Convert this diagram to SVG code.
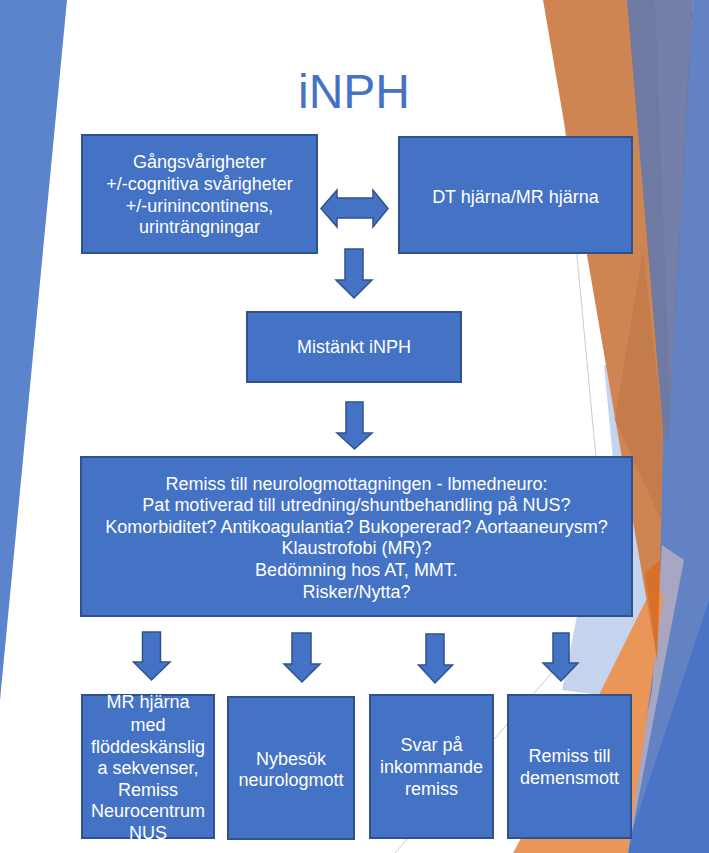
<svg xmlns="http://www.w3.org/2000/svg" width="709" height="853" viewBox="0 0 709 853">
<style>
.node rect{fill:#4472C4;stroke:#2F528F;stroke-width:2}
.node text{font-family:"Liberation Sans",Arial,sans-serif;font-size:18px;fill:#FFFFFF;text-anchor:middle}
.arrow{fill:#4472C4;stroke:#2F528F;stroke-width:1.5;stroke-linejoin:miter}
.title{font-family:"Liberation Sans",Arial,sans-serif;font-size:48px;fill:#4472C4;text-anchor:middle}
.thin{stroke:#BDBDBD;stroke-width:0.8;fill:none}
</style>
<rect width="709" height="853" fill="#FFFFFF"/>
<g id="background">
  <polygon points="0,0 67,0 0,700" fill="#5B84CC"/>
  <line class="thin" x1="553" y1="0" x2="630" y2="820"/>
  <line class="thin" x1="395" y1="853" x2="650" y2="560"/>
  <polygon points="604,365 625,365 650,600 600,695 562,690 577,616 628,616" fill="#C5D3EC"/>
  <polygon points="693,0 709,0 709,853 600,853 655,560 662,430" fill="#6282C4"/>
  <polygon points="709,600 709,853 625,853" fill="#4A75C6"/>
  <polygon points="625,0 693,0 668,445 662,430" fill="#6E7AA2"/>
  <polygon points="655,0 692,0 670,400" fill="#7480AA"/>
  <polygon points="662,545 684,560 628,853 620,853 652,690" fill="#A9A6C1"/>
  <polygon points="657,578 663,600 628,853 513,853 600,693" fill="#E99658"/>
  <polygon points="543,0 627,0 663,430 660,580 657,660 612,400" fill="#CE8552"/>
  <polygon points="643,250 663,430 661,520 615,420" fill="#C57C4C"/>
  <polygon points="645,573 660,560 657,658" fill="#D9702A"/>
</g>
<text class="title" x="354" y="108">iNPH</text>
<g id="connectors">
  <polygon id="arrow-bidir" class="arrow" points="321,208.5 337,190 337,198 373,198 373,190 388,208.5 373,227 373,218 337,218 337,227"/>
  <polygon id="arrow-1" class="arrow" points="345,249 363,249 363,280 372,280 354,298 336,280 345,280"/>
  <polygon id="arrow-2" class="arrow" points="346,402 363,402 363,433 372,433 354.5,449 337,433 346,433"/>
  <polygon id="arrow-a" class="arrow" points="142.5,632 160.5,632 160.5,662 170,662 151.5,680 133.5,662 142.5,662"/>
  <polygon id="arrow-b" class="arrow" points="292,633 311,633 311,664 320,664 302,682 284,664 292,664"/>
  <polygon id="arrow-c" class="arrow" points="426,634 444,634 444,665 452.5,665 435,683 418.5,665 426,665"/>
  <polygon id="arrow-d" class="arrow" points="553,633 569,633 569,663 578,663 561,681 543,663 553,663"/>
</g>
<g id="node-symptom" class="node">
  <rect x="82" y="135" width="235" height="118"/>
  <text x="199.5" y="168">Gångsvårigheter</text>
  <text x="199.5" y="190">+/-cognitiva svårigheter</text>
  <text x="199.5" y="212">+/-urinincontinens,</text>
  <text x="199.5" y="233">urinträngningar</text>
</g>
<g id="node-dt" class="node">
  <rect x="399" y="137" width="233" height="116"/>
  <text x="515.5" y="203">DT hjärna/MR hjärna</text>
</g>
<g id="node-suspect" class="node">
  <rect x="247" y="312" width="214" height="70"/>
  <text x="354" y="353">Mistänkt iNPH</text>
</g>
<g id="node-remiss" class="node">
  <rect x="81" y="457" width="551" height="159"/>
  <text x="356.5" y="490">Remiss till neurologmottagningen - lbmedneuro:</text>
  <text x="356.5" y="511">Pat motiverad till utredning/shuntbehandling på NUS?</text>
  <text x="356.5" y="533">Komorbiditet? Antikoagulantia? Bukopererad? Aortaaneurysm?</text>
  <text x="356.5" y="554">Klaustrofobi (MR)?</text>
  <text x="356.5" y="576">Bedömning hos AT, MMT.</text>
  <text x="356.5" y="598">Risker/Nytta?</text>
</g>
<g id="node-mr" class="node">
  <rect x="82" y="695" width="132" height="143"/>
  <text x="148" y="708">MR hjärna</text>
  <text x="148" y="731">med</text>
  <text x="148" y="753">flöddeskänslig</text>
  <text x="148" y="774">a sekvenser,</text>
  <text x="148" y="796">Remiss</text>
  <text x="148" y="817">Neurocentrum</text>
  <text x="148" y="839">NUS</text>
</g>
<g id="node-nybesok" class="node">
  <rect x="228" y="697" width="126" height="142"/>
  <text x="291" y="765">Nybesök</text>
  <text x="291" y="786">neurologmott</text>
</g>
<g id="node-svar" class="node">
  <rect x="370" y="695" width="123" height="143"/>
  <text x="431.5" y="751">Svar på</text>
  <text x="431.5" y="773">inkommande</text>
  <text x="431.5" y="795">remiss</text>
</g>
<g id="node-demens" class="node">
  <rect x="508" y="695" width="123" height="143"/>
  <text x="569.5" y="762">Remiss till</text>
  <text x="569.5" y="784">demensmott</text>
</g>
</svg>
